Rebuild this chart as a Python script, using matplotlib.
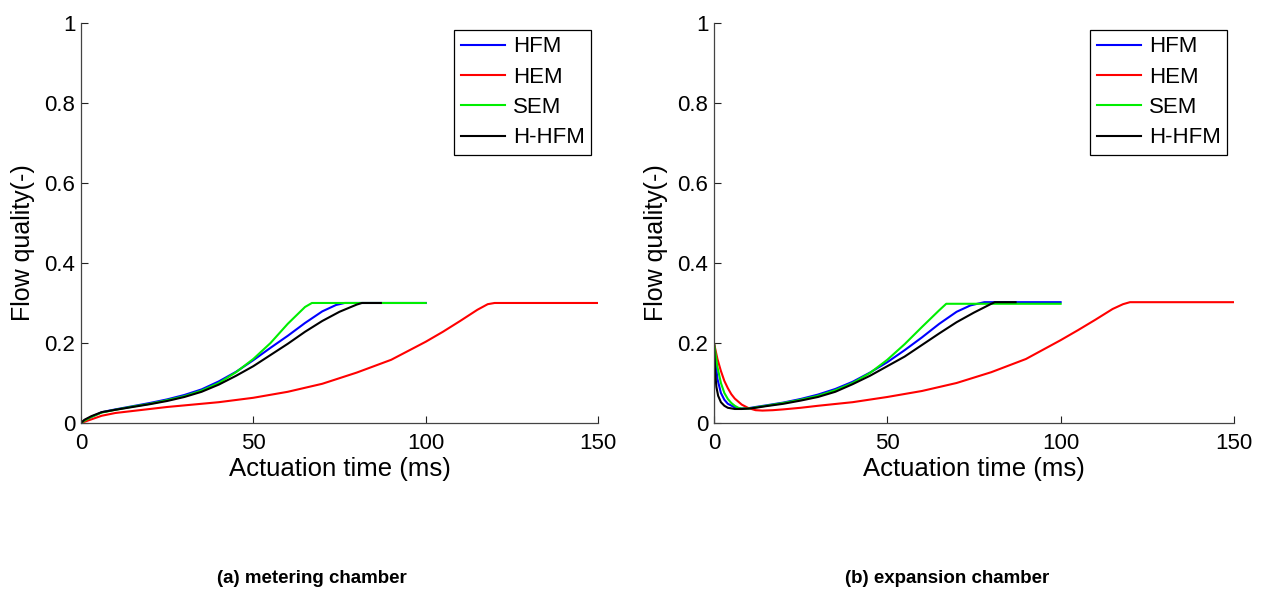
import numpy as np
import matplotlib.pyplot as plt

plt.rcParams['font.family'] = ['Liberation Sans', 'DejaVu Sans']

# ---- data (t in ms, flow quality in -) ----
# (a) metering chamber
t_hfm_a = [0, 1, 3, 6, 10, 15, 20, 25, 30, 35, 40, 45, 50, 55, 60, 65, 70, 74, 76.5, 100]
q_hfm_a = [0, 0.006, 0.015, 0.027, 0.034, 0.042, 0.05, 0.059, 0.07, 0.084, 0.104, 0.128, 0.157, 0.188, 0.218, 0.25, 0.279, 0.295, 0.3, 0.3]
t_hem_a = [0, 3, 6, 10, 15, 20, 25, 30, 40, 50, 60, 70, 80, 90, 100, 105, 110, 115, 118, 120, 150]
q_hem_a = [0, 0.009, 0.018, 0.025, 0.03, 0.035, 0.04, 0.044, 0.052, 0.063, 0.078, 0.098, 0.126, 0.158, 0.203, 0.228, 0.255, 0.283, 0.297, 0.3, 0.3]
t_sem_a = [0, 1, 3, 6, 10, 15, 20, 25, 30, 35, 40, 45, 50, 55, 60, 65, 67, 100]
q_sem_a = [0, 0.006, 0.015, 0.026, 0.033, 0.041, 0.048, 0.057, 0.067, 0.081, 0.1, 0.127, 0.16, 0.2, 0.248, 0.29, 0.3, 0.3]
t_hhfm_a = [0, 1, 3, 6, 10, 15, 20, 25, 30, 35, 40, 45, 50, 55, 60, 65, 70, 75, 80, 81.5, 87]
q_hhfm_a = [0, 0.008, 0.017, 0.027, 0.033, 0.04, 0.047, 0.055, 0.065, 0.078, 0.096, 0.118, 0.142, 0.17, 0.198, 0.228, 0.255, 0.278, 0.296, 0.3, 0.3]

# (b) expansion chamber
t_hfm_b = [0, 0, 0.5, 1, 2, 3, 4, 6, 8, 10, 12, 15, 20, 25, 30, 35, 40, 45, 50, 55, 60, 65, 70, 74, 78, 100]
q_hfm_b = [0, 0.2, 0.15, 0.11, 0.075, 0.058, 0.048, 0.039, 0.036, 0.037, 0.04, 0.044, 0.051, 0.06, 0.071, 0.085, 0.103, 0.126, 0.152, 0.182, 0.214, 0.248, 0.278, 0.294, 0.302, 0.302]
t_hem_b = [0, 0, 0.5, 1, 2, 3, 4, 5, 6, 8, 10, 12, 14, 17, 20, 25, 30, 40, 50, 60, 70, 80, 90, 100, 105, 110, 115, 118, 120, 150]
q_hem_b = [0, 0.2, 0.18, 0.16, 0.13, 0.105, 0.087, 0.072, 0.061, 0.046, 0.037, 0.032, 0.031, 0.032, 0.034, 0.038, 0.043, 0.052, 0.065, 0.08, 0.1, 0.127, 0.16, 0.207, 0.232, 0.258, 0.285, 0.297, 0.302, 0.302]
t_sem_b = [0, 0, 0.5, 1, 2, 3, 4, 5, 6, 7, 8, 10, 12, 15, 20, 25, 30, 35, 40, 45, 50, 55, 60, 65, 67, 100]
q_sem_b = [0, 0.2, 0.17, 0.14, 0.1, 0.075, 0.06, 0.05, 0.043, 0.038, 0.036, 0.036, 0.039, 0.043, 0.05, 0.058, 0.068, 0.082, 0.1, 0.125, 0.158, 0.197, 0.24, 0.282, 0.298, 0.298]
t_hhfm_b = [0, 0, 0.3, 0.7, 1.2, 2, 3, 4, 6, 8, 10, 12, 15, 20, 25, 30, 35, 40, 45, 50, 55, 60, 65, 70, 75, 80, 81, 87]
q_hhfm_b = [0, 0.2, 0.13, 0.09, 0.068, 0.052, 0.043, 0.038, 0.035, 0.035, 0.036, 0.038, 0.042, 0.048, 0.056, 0.065, 0.078, 0.097, 0.118, 0.142, 0.166, 0.195, 0.224, 0.252, 0.276, 0.298, 0.302, 0.302]

labels = ['HFM', 'HEM', 'SEM', 'H-HFM']
colors = ['#0000ff', '#ff0000', '#00ee00', '#000000']
xticks = [0, 50, 100, 150]
yticks = [0, 0.2, 0.4, 0.6, 0.8, 1]
yticklabels = ['0', '0.2', '0.4', '0.6', '0.8', '1']
captions = ['(a) metering chamber', '(b) expansion chamber']

panels = [
    [(t_hfm_a, q_hfm_a), (t_hem_a, q_hem_a), (t_sem_a, q_sem_a), (t_hhfm_a, q_hhfm_a)],
    [(t_hfm_b, q_hfm_b), (t_hem_b, q_hem_b), (t_sem_b, q_sem_b), (t_hhfm_b, q_hhfm_b)],
]

fig = plt.figure(figsize=(12.63, 5.92), dpi=100)
boxes = [[0.0641, 0.2855, 0.4094, 0.6757], [0.5653, 0.2855, 0.4117, 0.6757]]
caption_x = [0.2467, 0.75]

for k, series in enumerate(panels):
    ax = fig.add_axes(boxes[k])
    for (t, q), lab, c in zip(series, labels, colors):
        ax.plot(t, q, color=c, lw=1.5, label=lab)
    ax.set_xlim(0, 150)
    ax.set_ylim(0, 1)
    ax.set_xticks(xticks)
    ax.set_yticks(yticks)
    ax.set_yticklabels(yticklabels)
    ax.tick_params(direction='in', length=5, width=0.8, labelsize=16, pad=4, colors='#222222', labelcolor='black')
    ax.tick_params(axis='x', pad=7)
    for s in ['top', 'right']:
        ax.spines[s].set_visible(False)
    for s in ['left', 'bottom']:
        ax.spines[s].set_color('#444444')
        ax.spines[s].set_linewidth(0.9)
    ax.set_xlabel('Actuation time (ms)', fontsize=18.5, labelpad=2.5)
    ax.set_ylabel('Flow quality(-)', fontsize=18)
    ax.yaxis.set_label_coords(-0.088, 0.45)
    leg = ax.legend(loc='upper right', fontsize=16, handlelength=2.0, handletextpad=0.35,
                    labelspacing=0.42, borderaxespad=0.3, fancybox=False, framealpha=1,
                    borderpad=0.3)
    leg.get_frame().set_edgecolor('black')
    leg.get_frame().set_linewidth(0.9)
    fig.text(caption_x[k], 0.016, captions[k], ha='center', va='baseline',
             fontsize=13.5, fontweight='bold')

fig.savefig('out.png', dpi=100)
